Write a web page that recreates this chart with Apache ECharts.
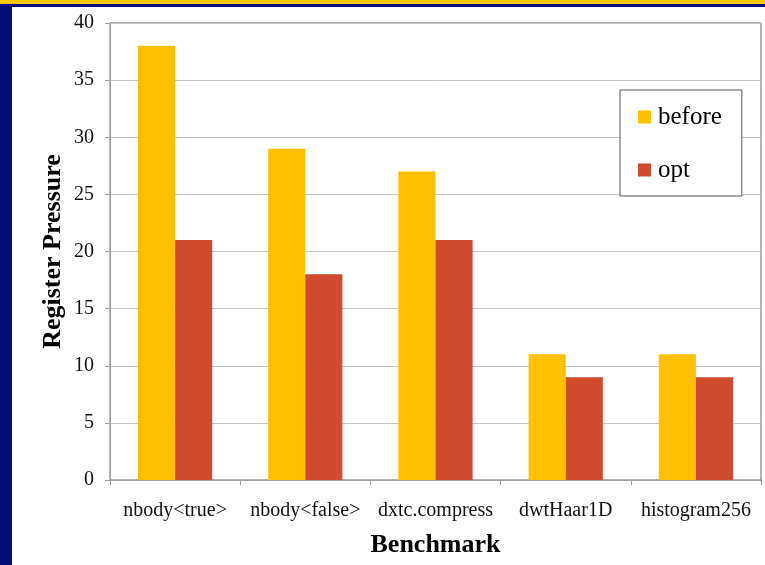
<!DOCTYPE html>
<html>
<head>
<meta charset="utf-8">
<script src="https://cdn.jsdelivr.net/npm/echarts@6/dist/echarts.min.js"></script>
<style>
  html, body { margin: 0; padding: 0; background: #ffffff; }
  #chart { width: 765px; height: 565px; }
</style>
</head>
<body>
<div id="chart"></div>
<script>
// Benchmarks and register pressure before / after optimisation
const benchmarks = ['nbody<true>', 'nbody<false>', 'dxtc.compress', 'dwtHaar1D', 'histogram256'];
const beforeValues = [38, 29, 27, 11, 11];
const optValues = [21, 18, 21, 9, 9];
const seriesNames = ['before', 'opt'];

const serif = '"Liberation Serif", "Times New Roman", serif';
const navy = '#000e7a';

const chart = echarts.init(document.getElementById('chart'), null, { renderer: 'canvas' });

chart.setOption({
  backgroundColor: '#ffffff',
  animation: false,
  graphic: [
    { type: 'rect', shape: { x: 0, y: 0, width: 765, height: 4 }, style: { fill: '#ffc800' }, z: 100 },
    { type: 'rect', shape: { x: 0, y: 4, width: 765, height: 3 }, style: { fill: navy }, z: 100 },
    { type: 'rect', shape: { x: 0, y: 0, width: 12, height: 565 }, style: { fill: navy }, z: 99 }
  ],
  grid: {
    left: 110, right: 4, top: 23, bottom: 85,
    show: true,
    borderColor: '#666666',
    borderWidth: 1,
    backgroundColor: 'transparent'
  },
  legend: {
    orient: 'vertical',
    left: 620,
    top: 90,
    itemWidth: 13,
    itemHeight: 13,
    itemGap: 27,
    padding: [14, 20, 13, 18],
    borderColor: '#555555',
    borderWidth: 1,
    backgroundColor: '#ffffff',
    icon: 'rect',
    textStyle: { fontFamily: serif, fontSize: 25, color: '#000000', lineHeight: 26, padding: [0, 0, 0, 2] },
    data: seriesNames
  },
  xAxis: {
    type: 'category',
    data: benchmarks,
    name: 'Benchmark',
    nameLocation: 'middle',
    nameGap: 52,
    nameMoveOverlap: false,
    nameTextStyle: { fontFamily: serif, fontSize: 26, fontWeight: 'bold', color: '#000000' },
    axisLine: { show: true, lineStyle: { color: '#a0a0a0', width: 1 } },
    axisTick: { show: true, length: 5, alignWithLabel: false, lineStyle: { color: '#a0a0a0' } },
    axisLabel: { interval: 0, margin: 21, fontFamily: serif, fontSize: 20, color: '#111111' },
    splitLine: { show: false }
  },
  yAxis: {
    type: 'value',
    min: 0,
    max: 40,
    interval: 5,
    name: 'Register Pressure',
    nameLocation: 'middle',
    nameGap: 44,
    nameMoveOverlap: false,
    nameTextStyle: { fontFamily: serif, fontSize: 26, fontWeight: 'bold', color: '#000000' },
    axisLine: { show: true, lineStyle: { color: '#a0a0a0', width: 1 } },
    axisTick: { show: true, length: 5, lineStyle: { color: '#a0a0a0' } },
    axisLabel: { margin: 16, fontFamily: serif, fontSize: 20, color: '#111111' },
    splitLine: { show: true, lineStyle: { color: '#c4c4c4', width: 1 } }
  },
  series: [
    {
      name: seriesNames[0],
      type: 'bar',
      data: beforeValues,
      itemStyle: { color: '#ffc000' },
      barGap: '0%',
      barCategoryGap: '43%'
    },
    {
      name: seriesNames[1],
      type: 'bar',
      data: optValues,
      itemStyle: { color: '#d04a2e' },
      barGap: '0%',
      barCategoryGap: '43%'
    }
  ]
});
</script>
</body>
</html>
